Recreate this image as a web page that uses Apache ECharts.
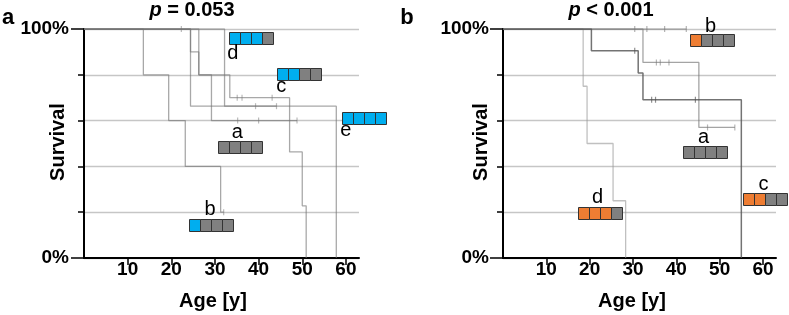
<!DOCTYPE html>
<html><head><meta charset="utf-8">
<script src="https://cdn.jsdelivr.net/npm/echarts@6/dist/echarts.min.js"></script>
<style>html,body{margin:0;padding:0;background:#fff}#c{width:789px;height:315px}</style>
</head><body><div id="c"></div>
<script>
// ---------- data ----------
const ageTicks = [10, 20, 30, 40, 50, 60];
const survivalLabels = {0: '0%', 100: '100%'};
const panelLetters = ['a', 'b'];
const pRelations = ['=', '<'];
const pValues = ['0.053', '0.001'];
const xTitle = 'Age [y]';
const yTitle = 'Survival';

// panel a curves: [age, survival %] at each step
const aCurveA = [[0,100],[26.3,80],[29.2,60],[48.8,60]];
const aCensorA = [[35.2,60],[40.0,60],[48.8,60]];
const aCurveB = [[0,100],[13.6,80],[19.4,60],[23.2,40],[31.3,20],[32.0,20]];
const aCensorB = [[32.0,20]];
const aCurveC = [[0,100],[24.4,90],[26.3,80],[33.4,70],[47.1,46.3],[50.0,22.8],[50.9,0]];
const aCensorC = [[35.1,70],[36.2,70],[43.1,70]];
const aCurveD = [[0,100],[32.2,66.3],[44.1,66.3]];
const aCensorD = [[22.3,100],[39.3,66.3],[44.1,66.3]];
const aCurveE = [[0,100],[24.4,66.3],[57.8,0]];
const aGroups = ['a', 'b', 'c', 'd', 'e'];
const aColoredCells = [0, 1, 2, 3, 4];

// panel b curves
const bCurveA = [[0,100],[32.3,85.4],[45.2,57],[53.5,57]];
const bCensorA = [[35.4,85.4],[36.3,85.4],[38.3,85.4],[47.2,57],[53.5,57]];
const bCurveB = [[0,100],[42.3,100]];
const bCensorB = [[30.4,100],[33.2,100],[37.3,100],[42.3,100]];
const bCurveC = [[0,100],[20.4,90.5],[31.2,80.8],[32.3,69.1],[55.0,0]];
const bCensorC = [[30.4,90.5],[34.3,69.1],[35.2,69.1],[44.4,69.1]];
const bCurveD = [[0,100],[18.5,75],[19.4,50],[25.4,25],[28.3,0]];
const bGroups = ['a', 'b', 'c', 'd'];
const bColoredCells = [0, 1, 2, 3];

// ---------- layout (data-unit anchors: box top-left, letter centre) ----------
const aLabelLayout = [
  [30.6, 50.9, 35.1, 55.0],
  [24.0, 17.0, 28.9, 21.4],
  [44.3, 83.0, 45.2, 74.7],
  [33.2, 98.7, 34.1, 89.1],
  [59.1, 63.6, 60.0, 55.8]
];
const bLabelLayout = [
  [41.5, 48.7, 46.3, 52.7],
  [43.2, 97.8, 47.9, 101.1],
  [55.4, 28.6, 60.1, 32.3],
  [17.2, 22.3, 21.8, 26.3]
];

const FONT = '"Liberation Sans", Arial, Helvetica, sans-serif';
const BLUE = '#00AEEF', ORANGE = '#EE7D33', CELLGRAY = '#808080';

function xAxis(g) {
  return {
    type: 'value', gridIndex: g, min: 0, max: 63,
    axisLine: {show: true, onZero: false, lineStyle: {color: '#000', width: 2}},
    axisTick: {show: true, customValues: ageTicks, length: 7, lineStyle: {color: '#000', width: 1.5}},
    axisLabel: {customValues: ageTicks, color: '#000', fontSize: 19, fontWeight: 'bold', fontFamily: FONT, margin: 2},
    splitLine: {show: false}
  };
}
function yAxisMain(g) {
  return {
    type: 'value', gridIndex: g, min: 0, max: 100, interval: 20,
    axisLine: {show: true, onZero: false, lineStyle: {color: '#000', width: 2}},
    axisTick: {show: true, length: 6, lineStyle: {color: '#000', width: 1.5}},
    axisLabel: {show: false},
    splitLine: {show: true, lineStyle: {color: '#c6c6c6', width: 1.3}}
  };
}
function yAxisLabels(g, margin) {
  return {
    type: 'value', gridIndex: g, min: 0, max: 100, interval: 100, position: 'left',
    axisLine: {show: false},
    axisTick: {show: true, length: 13, lineStyle: {color: '#000', width: 1.5}},
    axisLabel: {formatter: v => survivalLabels[v] || '', color: '#000', fontSize: 19, fontWeight: 'bold', fontFamily: FONT, margin: margin},
    splitLine: {show: false}
  };
}
function curve(data, xi, yi, color, w) {
  return {type: 'line', step: 'end', data: data, xAxisIndex: xi, yAxisIndex: yi,
    symbol: 'none', showSymbol: false, silent: true, animation: false,
    lineStyle: {color: color, width: w || 1.3}, z: 3};
}
function censor(data, xi, yi, color) {
  return {type: 'scatter', data: data, xAxisIndex: xi, yAxisIndex: yi,
    symbol: 'rect', symbolSize: [1.2, 6], itemStyle: {color: color},
    silent: true, animation: false, z: 4};
}
function labels(layout, groups, colored, accent, xi, yi) {
  const data = layout.map((l, i) => [l[0], l[1], l[2], l[3], colored[i]]);
  return {
    type: 'custom', xAxisIndex: xi, yAxisIndex: yi, data: data, silent: true, animation: false, z: 10,
    clip: false,
    renderItem: function (params, api) {
      const p = api.coord([api.value(0), api.value(1)]);
      const q = api.coord([api.value(2), api.value(3)]);
      const n = api.value(4);
      const children = [];
      const x0 = Math.round(p[0]) + 0.5, y0 = Math.round(p[1]) + 0.5;
      for (let k = 0; k < 4; k++) {
        children.push({type: 'rect', shape: {x: x0 + k * 11, y: y0, width: 11, height: 12},
          style: {fill: k < n ? accent : CELLGRAY, stroke: '#333', lineWidth: 1}});
      }
      children.push({type: 'text', style: {x: q[0], y: q[1], text: groups[params.dataIndex],
        font: '20px ' + FONT, fill: '#000', align: 'center', verticalAlign: 'middle'}});
      return {type: 'group', children: children};
    }
  };
}

const LA = 'rgba(115,115,115,0.62)';
const option = {
  animation: false,
  grid: [
    {left: 84, top: 29, width: 275, height: 229},
    {left: 503, top: 29, width: 273, height: 229}
  ],
  xAxis: [xAxis(0), xAxis(1)],
  yAxis: [yAxisMain(0), yAxisLabels(0, 15), yAxisMain(1), yAxisLabels(1, 14)],
  series: [
    curve(aCurveA, 0, 0, LA), censor(aCensorA, 0, 0, LA),
    curve(aCurveB, 0, 0, LA), censor(aCensorB, 0, 0, LA),
    curve(aCurveC, 0, 0, LA), censor(aCensorC, 0, 0, LA),
    curve(aCurveD, 0, 0, LA), censor(aCensorD, 0, 0, LA),
    curve(aCurveE, 0, 0, LA),
    curve(bCurveD, 1, 2, 'rgba(150,150,150,0.6)'),
    curve(bCurveA, 1, 2, 'rgba(115,115,115,0.65)'), censor(bCensorA, 1, 2, 'rgba(115,115,115,0.65)'),
    curve(bCurveB, 1, 2, 'rgba(120,120,120,0.6)'), censor(bCensorB, 1, 2, 'rgba(120,120,120,0.7)'),
    curve(bCurveC, 1, 2, 'rgba(80,80,80,0.8)', 1.5), censor(bCensorC, 1, 2, 'rgba(80,80,80,0.8)'),
    labels(aLabelLayout, aGroups, aColoredCells, BLUE, 0, 0),
    labels(bLabelLayout, bGroups, bColoredCells, ORANGE, 1, 2)
  ],
  graphic: [
    {type: 'text', x: 8, y: 18, style: {text: panelLetters[0], font: 'bold 22px ' + FONT, fill: '#000', align: 'center', verticalAlign: 'middle'}},
    {type: 'text', x: 407, y: 18, style: {text: panelLetters[1], font: 'bold 22px ' + FONT, fill: '#000', align: 'center', verticalAlign: 'middle'}},
    {type: 'text', x: 192, y: 10, style: {text: '{i|p}{n| ' + pRelations[0] + ' ' + pValues[0] + '}', align: 'center', verticalAlign: 'middle',
      rich: {i: {fontStyle: 'italic', fontWeight: 'bold', fontSize: 20, fontFamily: FONT, fill: '#000'}, n: {fontWeight: 'bold', fontSize: 20, fontFamily: FONT, fill: '#000'}}}},
    {type: 'text', x: 611, y: 10, style: {text: '{i|p}{n| ' + pRelations[1] + ' ' + pValues[1] + '}', align: 'center', verticalAlign: 'middle',
      rich: {i: {fontStyle: 'italic', fontWeight: 'bold', fontSize: 20, fontFamily: FONT, fill: '#000'}, n: {fontWeight: 'bold', fontSize: 20, fontFamily: FONT, fill: '#000'}}}},
    {type: 'text', x: 213, y: 301, style: {text: xTitle, font: 'bold 20px ' + FONT, fill: '#000', align: 'center', verticalAlign: 'middle'}},
    {type: 'text', x: 632, y: 301, style: {text: xTitle, font: 'bold 20px ' + FONT, fill: '#000', align: 'center', verticalAlign: 'middle'}},
    {type: 'text', x: 58, y: 142, rotation: Math.PI / 2, style: {text: yTitle, font: 'bold 20px ' + FONT, fill: '#000', align: 'center', verticalAlign: 'middle'}},
    {type: 'text', x: 481, y: 142, rotation: Math.PI / 2, style: {text: yTitle, font: 'bold 20px ' + FONT, fill: '#000', align: 'center', verticalAlign: 'middle'}}
  ]
};
const chart = echarts.init(document.getElementById('c'), null, {renderer: 'canvas'});
chart.setOption(option);
</script>
</body></html>
